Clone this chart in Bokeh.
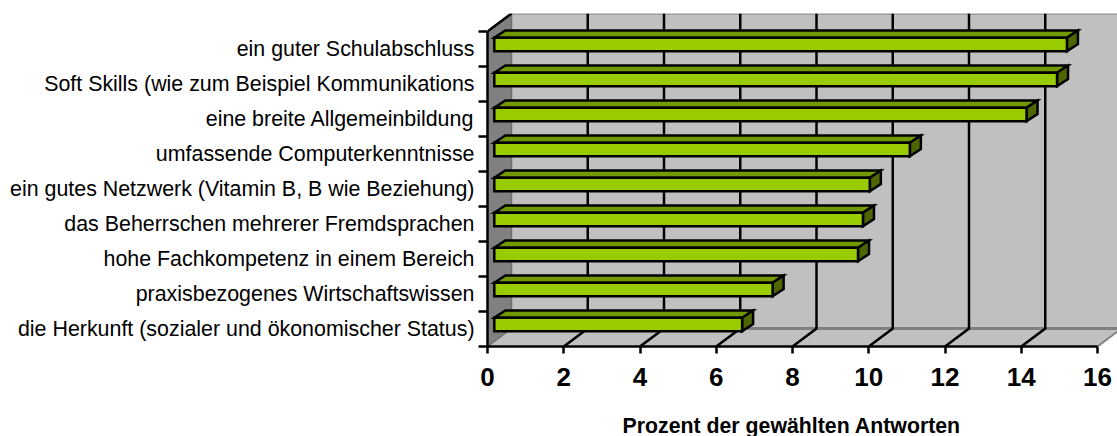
from bokeh.plotting import figure
from bokeh.models import Range1d, LinearAxis, FixedTicker, Title
from bokeh.embed import file_html
from bokeh.resources import INLINE

categories = [
    "ein guter Schulabschluss",
    "Soft Skills (wie zum Beispiel Kommunikations",
    "eine breite Allgemeinbildung",
    "umfassende Computerkenntnisse",
    "ein gutes Netzwerk (Vitamin B, B wie Beziehung)",
    "das Beherrschen mehrerer Fremdsprachen",
    "hohe Fachkompetenz in einem Bereich",
    "praxisbezogenes Wirtschaftswissen",
    "die Herkunft (sozialer und ökonomischer Status)",
]
values = [15.02, 14.76, 13.96, 10.9, 9.85, 9.67, 9.54, 7.3, 6.5]
x_ticks = [0, 2, 4, 6, 8, 10, 12, 14, 16]
x_title = "Prozent der gewählten Antworten"

PXX, PXY = 38.125, 35.0
DX, DY = 24 / PXX, 18 / PXY          # depth of the chart box
BX0 = 6.8 / PXX                      # bar start
BDX, BDY = 11 / PXX, 7.3 / PXY       # bar depth
XMAX, YMAX = 630 / PXX, 333 / PXY
n = len(categories)
LW = 2.5

p = figure(width=1117, height=436, output_backend="svg", toolbar_location=None,
           frame_width=630, frame_height=333, min_border_left=487, min_border_top=13,
           min_border_bottom=90, min_border_right=0,
           x_range=Range1d(0, XMAX), y_range=Range1d(0, YMAX),
           x_axis_type=None, y_axis_type=None)
p.outline_line_color = None
p.grid.visible = False

# walls and floor
p.quad(left=[DX], right=[XMAX], bottom=[DY], top=[YMAX - 0.01], fill_color="#C0C0C0", line_color=None)
p.patch([0, 16, 16 + DX, XMAX, DX], [0, 0, DY, DY, DY], fill_color="#C0C0C0", line_color=None)
p.patch([0, DX, DX, 0], [0, DY, n + DY, n], fill_color="#808080", line_color=None)
p.line([16, 16 + DX], [0, DY], line_color="#808080", line_width=2)
p.line([DX, XMAX], [DY, DY], line_color="#808080", line_width=3)
p.line([DX, XMAX], [YMAX - 0.01, YMAX - 0.01], line_color="#969696", line_width=2)
p.line([DX, DX], [DY, YMAX], line_color="#6E6E6E", line_width=1.5)
p.line([0, DX], [0, DY], line_color="#6E6E6E", line_width=1.5)
p.line([0, DX], [n, n + DY], line_color="black", line_width=LW)

# gridlines
gx = [t for t in x_ticks if 0 < t < 16]
p.multi_line([[t, t + DX, t + DX] for t in gx],
             [[0, DY, YMAX] for t in gx], line_color="black", line_width=LW, line_join="miter")

# bars
ys = [n - 1 - i + 0.435 for i in range(n)]
H = 0.385
ends = [BX0 + v for v in values]
p.patches([[BX0, BX0 + BDX, e + BDX, e] for e in ends],
          [[y + H, y + H + BDY, y + H + BDY, y + H] for y in ys],
          fill_color="#739900", line_color="black", line_width=LW, line_join="miter")
p.patches([[e, e + BDX, e + BDX, e] for e in ends],
          [[y, y + BDY, y + H + BDY, y + H] for y in ys],
          fill_color="#4D6600", line_color="black", line_width=LW, line_join="miter")
p.quad(left=[BX0] * n, right=ends, bottom=ys, top=[y + H for y in ys],
       fill_color="#99CC00", line_color="black", line_width=LW, line_join="miter")

# axes
xa = LinearAxis(ticker=FixedTicker(ticks=x_ticks), bounds=(0, 16))
xa.axis_line_width = LW
xa.major_tick_line_width = LW
xa.major_tick_out = 7
xa.major_tick_in = 0
xa.minor_tick_out = 0
xa.major_label_standoff = 14
xa.major_label_text_font = "Liberation Sans"
xa.major_label_text_font_style = "bold"
xa.major_label_text_font_size = "26px"
xa.major_label_text_color = "black"
p.add_layout(xa, "below")

centers = [n - 1 - i + 0.5 for i in range(n)]
ya = LinearAxis(ticker=FixedTicker(ticks=centers, minor_ticks=list(range(n + 1))), bounds=(0, n))
ya.major_label_overrides = {c: t for c, t in zip(centers, categories)}
ya.axis_line_width = LW
ya.major_tick_out = 0
ya.major_tick_in = 0
ya.minor_tick_out = 9
ya.minor_tick_in = 0
ya.minor_tick_line_width = LW
ya.major_label_standoff = 4
ya.major_label_text_font = "Liberation Sans"
ya.major_label_text_font_size = "21.4px"
ya.major_label_text_color = "black"
p.add_layout(ya, "left")

p.add_layout(Title(text=x_title, align="left", offset=135, standoff=46, text_font="Liberation Sans",
                   text_font_style="bold", text_font_size="21.3px", text_color="black"), "below")

open("out.html", "w").write(file_html(p, INLINE))
